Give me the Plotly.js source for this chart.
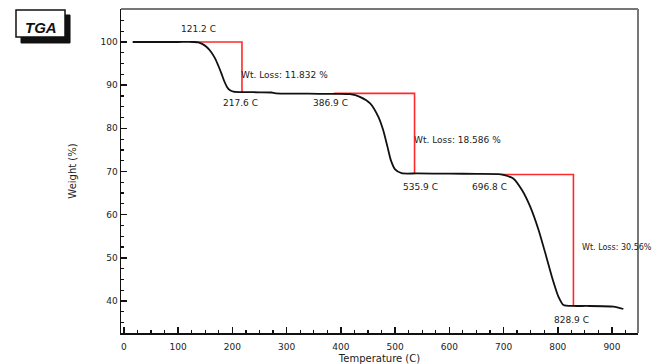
<!DOCTYPE html>
<html>
<head>
<meta charset="utf-8">
<script src="https://cdn.plot.ly/plotly-3.0.1.min.js"></script>
<style>
html,body{margin:0;padding:0;background:#fff;}
#chart{width:658px;height:364px;}
</style>
</head>
<body>
<div id="chart"></div>
<script>
// TGA curve (temperature in C, weight in %)
var tempC = [16, 60, 100, 130, 137, 145, 152, 160, 168, 175, 180, 185, 190, 195, 202, 215, 250, 272, 280, 320, 360, 390,
             398.5, 417, 435, 454, 469, 478, 486, 492, 500, 512, 540, 600, 650, 690,
             700, 718, 734, 749, 764.5, 777, 789, 801, 810.5, 829, 854, 903, 921];
var weightPct = [100, 100, 100, 100, 99.9, 99.5, 98.9, 97.8, 96.2, 94.2, 92.6, 90.9, 89.6, 88.9, 88.5, 88.4, 88.35, 88.3, 88.1, 88.05, 88.0, 88.0,
                 88.0, 87.9, 87.3, 85.8, 82.7, 79.6, 75.7, 72.7, 70.5, 69.6, 69.55, 69.5, 69.45, 69.4,
                 69.2, 68.4, 65.7, 61.9, 56.5, 51.1, 45.7, 41.1, 39.1, 38.85, 38.85, 38.7, 38.15];

// Weight-loss step markers (red)
var step1T = [121.2, 217.6, 217.6];
var step1W = [100, 100, 88.17];
var step2T = [386.9, 535.9, 535.9];
var step2W = [88.1, 88.1, 69.5];
var step3T = [696.8, 828.9, 828.9];
var step3W = [69.3, 69.3, 38.74];

// Temperature labels
var tempLabels = ["121.2 C", "217.6 C", "386.9 C", "535.9 C", "696.8 C", "828.9 C"];
var tempLabelX = [137, 214, 380, 547, 674, 825.5];
var tempLabelY = [103.1, 85.9, 85.9, 66.4, 66.4, 35.6];

// Weight-loss labels
var lossLabels = ["Wt. Loss: 11.832 %", "Wt. Loss: 18.586 %", "Wt. Loss: 30.56%"];
var lossLabelX = [212, 531, 841];
var lossLabelY = [92.35, 77.3, 52.3];
var lossLabelSize = [9, 9, 8];

var xTicks = [0, 100, 200, 300, 400, 500, 600, 700, 800, 900];
var yTicks = [40, 50, 60, 70, 80, 90, 100];

var FONT = "DejaVu Sans, Verdana, sans-serif";
var red = "#ff2a2a";

var traces = [
  {x: step1T, y: step1W, mode: "lines", line: {color: red, width: 1.6}, hoverinfo: "skip"},
  {x: step2T, y: step2W, mode: "lines", line: {color: red, width: 1.6}, hoverinfo: "skip"},
  {x: step3T, y: step3W, mode: "lines", line: {color: red, width: 1.6}, hoverinfo: "skip"},
  {x: tempC, y: weightPct, mode: "lines", line: {color: "#111", width: 1.8, shape: "spline", smoothing: 0.6}, name: "TGA"}
];

var annotations = [];
for (var i = 0; i < tempLabels.length; i++) {
  annotations.push({x: tempLabelX[i], y: tempLabelY[i], xref: "x", yref: "y", text: tempLabels[i],
    showarrow: false, xanchor: "center", yanchor: "middle", font: {family: FONT, size: 9, color: "#222"}});
}
for (var j = 0; j < lossLabels.length; j++) {
  annotations.push({x: lossLabelX[j], y: lossLabelY[j], xref: "x", yref: "y", text: lossLabels[j],
    showarrow: false, xanchor: "left", yanchor: "middle", font: {family: FONT, size: lossLabelSize[j], color: "#222"}});
}
annotations.push({x: -0.1557, y: 0.9414, xref: "paper", yref: "paper", text: "<b><i>TGA</i></b>",
  showarrow: false, xanchor: "center", yanchor: "middle", font: {family: "Liberation Sans, Arial, sans-serif", size: 15, color: "#111"}});

var layout = {
  width: 658, height: 364,
  margin: {l: 121, r: 20, t: 9, b: 31},
  paper_bgcolor: "#fff", plot_bgcolor: "#fff",
  showlegend: false,
  xaxis: {
    range: [-5.5, 948], tickvals: xTicks, ticktext: xTicks.map(String),
    ticks: "inside", ticklen: 6, tickwidth: 1.5, tickcolor: "#111",
    showline: true, linecolor: "#111", linewidth: 1.5,
    showgrid: false, zeroline: false,
    minor: {ticks: "inside", ticklen: 3, tickwidth: 1.2, tickcolor: "#111", dtick: 25, tick0: 0, showgrid: false},
    tickfont: {family: FONT, size: 9, color: "#222"},
    ticklabelstandoff: 5,
    title: {text: "Temperature (C)", font: {family: FONT, size: 10, color: "#222"}, standoff: 3}
  },
  yaxis: {
    range: [32.59, 107.64], tickvals: yTicks, ticktext: yTicks.map(String),
    ticks: "inside", ticklen: 6, tickwidth: 1.5, tickcolor: "#111",
    showline: true, linecolor: "#111", linewidth: 1.5,
    showgrid: false, zeroline: false,
    minor: {ticks: "inside", ticklen: 3, tickwidth: 1.2, tickcolor: "#111", dtick: 2.5, tick0: 0, showgrid: false},
    tickfont: {family: FONT, size: 9, color: "#222"},
    title: {text: "Weight (%)", font: {family: FONT, size: 10, color: "#222"}, standoff: 22}
  },
  shapes: [
    {type: "line", xref: "paper", yref: "paper", x0: 0, x1: 1, y0: 1, y1: 1, line: {color: "#777", width: 2}},
    {type: "line", xref: "paper", yref: "paper", x0: 1, x1: 1, y0: 0, y1: 1, line: {color: "#777", width: 2}},
    {type: "rect", xref: "paper", yref: "paper", x0: -0.1934, x1: -0.0986, y0: 0.8951, y1: 0.9815,
      fillcolor: "#111", line: {color: "#111", width: 1}, layer: "above"},
    {type: "rect", xref: "paper", yref: "paper", x0: -0.2031, x1: -0.1083, y0: 0.9136, y1: 0.9969,
      fillcolor: "#fff", line: {color: "#111", width: 1.5}, layer: "above"}
  ],
  annotations: annotations
};

Plotly.newPlot("chart", traces, layout, {staticPlot: true, displayModeBar: false});
</script>
</body>
</html>
